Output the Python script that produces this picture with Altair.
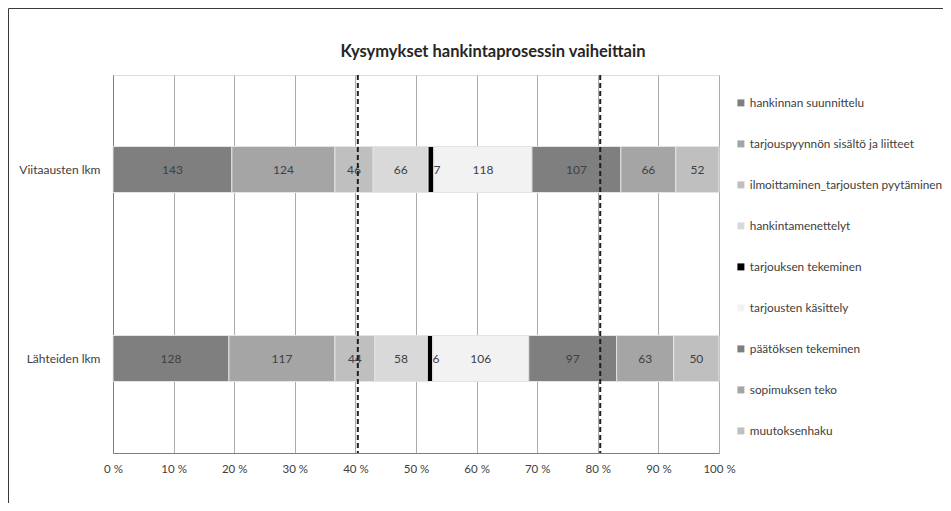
import altair as alt
import pandas as pd

rows = ["Viitaausten lkm", "Lähteiden lkm"]
phases = [
    "hankinnan suunnittelu",
    "tarjouspyynnön sisältö ja liitteet",
    "ilmoittaminen_tarjousten pyytäminen",
    "hankintamenettelyt",
    "tarjouksen tekeminen",
    "tarjousten käsittely",
    "päätöksen tekeminen",
    "sopimuksen teko",
    "muutoksenhaku",
]
viittaukset = [143, 124, 46, 66, 7, 118, 107, 66, 52]
lahteet = [128, 117, 44, 58, 6, 106, 97, 63, 50]
colors = ["#7f7f7f", "#a5a5a5", "#bfbfbf", "#d9d9d9", "#000000",
          "#f2f2f2", "#7f7f7f", "#a5a5a5", "#bfbfbf"]
ref_lines = [0.404, 0.804]
tick_values = [0, 0.1, 0.2, 0.3, 0.4, 0.5, 0.6, 0.7, 0.8, 0.9, 1.0]
title_text = "Kysymykset hankintaprosessin vaiheittain"

records = []
for r, vals in zip(rows, [viittaukset, lahteet]):
    for i, (p, v) in enumerate(zip(phases, vals)):
        records.append({"row": r, "phase": p, "order": i, "value": v})
df = pd.DataFrame(records)

FONT = "Lato"

base = alt.Chart(df).transform_stack(
    stack="value", groupby=["row"], as_=["x0", "x1"], offset="normalize",
    sort=[alt.SortField("order", order="ascending")],
).transform_calculate(xm="(datum.x0 + datum.x1) / 2")

yenc = alt.Y("row:N", sort=rows, title=None,
             scale=alt.Scale(paddingInner=0, paddingOuter=0),
             axis=alt.Axis(ticks=False, tickSize=0, labelPadding=13, grid=False,
                           domainColor="#7f7f7f", labelFontSize=12,
                           labelColor="#404040", labelFont=FONT))

bars = base.mark_bar(size=46, stroke="#e4e4e4", strokeWidth=1).encode(
    x=alt.X("x0:Q", title=None,
            scale=alt.Scale(domain=[0, 1], nice=False),
            axis=alt.Axis(values=tick_values,
                          labelExpr="round(datum.value * 100) + ' %'",
                          labelFlush=False, labelOverlap=False,
                          grid=True, gridColor="#ababab", gridWidth=1,
                          ticks=False, tickSize=0, labelPadding=10,
                          domainColor="#7f7f7f", labelFontSize=11.5,
                          labelColor="#404040", labelFont=FONT)),
    x2="x1:Q",
    y=yenc,
    color=alt.Color("phase:N", scale=alt.Scale(domain=phases, range=colors),
                    legend=alt.Legend(title=None, orient="none", legendX=622,
                                      legendY=22, symbolType="square",
                                      symbolSize=49, symbolStrokeWidth=0,
                                      labelFontSize=11.8, labelFont=FONT,
                                      labelColor="#404040", labelOffset=3,
                                      labelLimit=300, rowPadding=28,
                                      padding=0)),
)

labels = base.transform_filter(
    "datum.phase != 'tarjouksen tekeminen'"
).mark_text(fontSize=12, font=FONT, color="#404040").encode(
    x="xm:Q", y=alt.Y("row:N", sort=rows), text="value:Q")

labels_black = base.transform_filter(
    "datum.phase == 'tarjouksen tekeminen'"
).mark_text(fontSize=12, font=FONT, color="#404040", dx=6).encode(
    x="xm:Q", y=alt.Y("row:N", sort=rows), text="value:Q")

rules = alt.Chart(pd.DataFrame({"v": ref_lines})).mark_rule(
    strokeDash=[5, 3], strokeWidth=2, color="#17202a").encode(x="v:Q")

frame = alt.Chart(alt.Data(values=[{}])).mark_rect(
    fillOpacity=0, stroke="#3a3a3a", strokeWidth=1, clip=False).encode(
    x=alt.value(-104.5), y=alt.value(-66.5),
    x2=alt.value(1000), y2=alt.value(1000))

title = alt.Chart(alt.Data(values=[{"t": title_text}])).mark_text(
    font=FONT, fontSize=16.5, fontWeight="bold", color="#262626",
    align="center", baseline="middle", clip=False).encode(
    text="t:N", x=alt.value(380), y=alt.value(-23))

chart = alt.layer(bars, labels, labels_black, rules, frame, title).properties(
    width=606, height=378,
    autosize=alt.AutoSizeParams(type="none"),
    padding={"left": 105, "top": 67, "right": 224, "bottom": 50},
).configure_view(stroke=None).configure(background="white")

chart.save("out.html", embed_options={"renderer": "svg", "actions": False})
